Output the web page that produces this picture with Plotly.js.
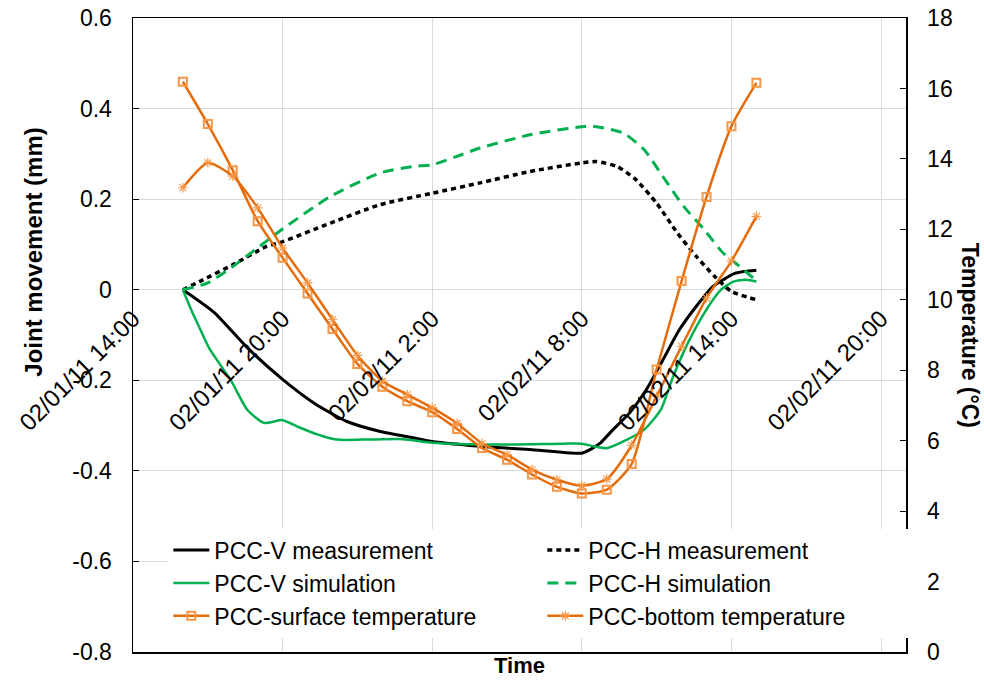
<!DOCTYPE html>
<html>
<head>
<meta charset="utf-8">
<script src="https://cdn.plot.ly/plotly-3.0.1.min.js"></script>
<style>html,body{margin:0;padding:0;background:#fff;}#chart{width:984px;height:681px;}</style>
</head>
<body>
<div id="chart"></div>
<script>
// ---- Data ----
const seriesNames = ['PCC-V measurement','PCC-H measurement','PCC-V simulation','PCC-H simulation','PCC-surface temperature','PCC-bottom temperature'];

const vMeasTime = ['2011-02-01 16:00','2011-02-01 17:15','2011-02-01 18:35','2011-02-01 20:00','2011-02-01 21:15','2011-02-01 22:35','2011-02-01 23:55','2011-02-02 01:15','2011-02-02 02:00','2011-02-02 03:10','2011-02-02 03:55','2011-02-02 05:55','2011-02-02 08:00','2011-02-02 08:20','2011-02-02 08:45','2011-02-02 09:15','2011-02-02 09:55','2011-02-02 10:35','2011-02-02 11:15','2011-02-02 11:55','2011-02-02 12:35','2011-02-02 13:15','2011-02-02 13:40','2011-02-02 14:05','2011-02-02 14:30','2011-02-02 15:00'];
const vMeasVal = [0,-0.050,-0.128,-0.198,-0.250,-0.291,-0.313,-0.327,-0.335,-0.342,-0.346,-0.353,-0.361,-0.353,-0.338,-0.309,-0.272,-0.221,-0.155,-0.088,-0.037,0.007,0.022,0.035,0.040,0.043];

const hMeasTime = ['2011-02-01 16:00','2011-02-01 16:40','2011-02-01 18:00','2011-02-01 19:20','2011-02-01 20:00','2011-02-01 21:55','2011-02-01 23:55','2011-02-02 02:00','2011-02-02 03:55','2011-02-02 05:55','2011-02-02 08:00','2011-02-02 08:35','2011-02-02 09:25','2011-02-02 10:10','2011-02-02 11:00','2011-02-02 11:50','2011-02-02 12:35','2011-02-02 13:20','2011-02-02 14:00','2011-02-02 15:00'];
const hMeasVal = [0,0.018,0.055,0.095,0.106,0.147,0.188,0.213,0.236,0.261,0.280,0.283,0.272,0.243,0.191,0.125,0.074,0.029,-0.004,-0.022];

const vSimTime = ['2011-02-01 16:00','2011-02-01 16:20','2011-02-01 16:35','2011-02-01 17:05','2011-02-01 17:55','2011-02-01 18:35','2011-02-01 19:15','2011-02-01 20:00','2011-02-01 20:35','2011-02-01 21:25','2011-02-01 22:10','2011-02-01 23:15','2011-02-02 00:50','2011-02-02 02:00','2011-02-02 04:35','2011-02-02 07:15','2011-02-02 08:00','2011-02-02 08:30','2011-02-02 09:00','2011-02-02 09:40','2011-02-02 10:30','2011-02-02 11:10','2011-02-02 11:40','2011-02-02 12:15','2011-02-02 12:55','2011-02-02 13:35','2011-02-02 14:05','2011-02-02 14:35','2011-02-02 15:00'];
const vSimVal = [0,-0.044,-0.074,-0.132,-0.199,-0.265,-0.294,-0.288,-0.302,-0.320,-0.331,-0.331,-0.330,-0.338,-0.342,-0.340,-0.340,-0.346,-0.350,-0.335,-0.309,-0.265,-0.191,-0.118,-0.051,0.0,0.018,0.022,0.018];

const hSimTime = ['2011-02-01 16:00','2011-02-01 17:00','2011-02-01 18:00','2011-02-01 19:05','2011-02-01 20:00','2011-02-01 21:55','2011-02-01 23:55','2011-02-02 01:15','2011-02-02 02:00','2011-02-02 03:10','2011-02-02 03:55','2011-02-02 05:55','2011-02-02 08:00','2011-02-02 08:35','2011-02-02 09:40','2011-02-02 10:30','2011-02-02 11:15','2011-02-02 12:05','2011-02-02 12:55','2011-02-02 13:40','2011-02-02 14:15','2011-02-02 15:00'];
const hSimVal = [0,0.015,0.051,0.096,0.134,0.206,0.258,0.272,0.276,0.298,0.313,0.342,0.360,0.360,0.346,0.309,0.250,0.184,0.132,0.081,0.055,0.020];

const tempTime = ['2011-02-01 16:00','2011-02-01 17:00','2011-02-01 18:00','2011-02-01 19:00','2011-02-01 20:00','2011-02-01 21:00','2011-02-01 22:00','2011-02-01 23:00','2011-02-02 00:00','2011-02-02 01:00','2011-02-02 02:00','2011-02-02 03:00','2011-02-02 04:00','2011-02-02 05:00','2011-02-02 06:00','2011-02-02 07:00','2011-02-02 08:00','2011-02-02 09:00','2011-02-02 10:00','2011-02-02 11:00','2011-02-02 12:00','2011-02-02 13:00','2011-02-02 14:00','2011-02-02 15:00'];
const surfaceTemp = [16.19,14.99,13.68,12.23,11.19,10.18,9.17,8.18,7.53,7.12,6.81,6.33,5.79,5.46,5.04,4.69,4.50,4.61,5.34,8.02,10.53,12.92,14.93,16.16];
const bottomTemp = [13.18,13.89,13.51,12.61,11.47,10.48,9.44,8.42,7.69,7.31,6.93,6.49,5.92,5.60,5.18,4.89,4.72,4.91,5.87,7.26,8.68,10.05,11.10,12.37];

const xTickVals = ['2011-02-01 14:00','2011-02-01 20:00','2011-02-02 02:00','2011-02-02 08:00','2011-02-02 14:00','2011-02-02 20:00'];
const xTickText = ['02/01/11 14:00','02/01/11 20:00','02/02/11 2:00','02/02/11 8:00','02/02/11 14:00','02/02/11 20:00'];
const yTickVals = [-0.8,-0.6,-0.4,-0.2,0,0.2,0.4,0.6];
const yTickText = ['-0.8','-0.6','-0.4','-0.2','0','0.2','0.4','0.6'];
const y2TickVals = [0,2,4,6,8,10,12,14,16,18];

// ---- Styles ----
const F = 'Arial, "Liberation Sans", sans-serif';
const orange = '#E46C0A', orangeLight = '#F79646', green = '#00B050';
const xRange = ['2011-02-01 14:00','2011-02-02 21:00'];

const traces = [
  {x: vMeasTime, y: vMeasVal, name: seriesNames[0], mode: 'lines', line: {color: '#000', width: 3, shape: 'spline', smoothing: 0.6}},
  {x: hMeasTime, y: hMeasVal, name: seriesNames[1], mode: 'lines', line: {color: '#000', width: 3.5, dash: '5px,4px', shape: 'spline', smoothing: 0.6}},
  {x: vSimTime, y: vSimVal, name: seriesNames[2], mode: 'lines', line: {color: green, width: 2.5, shape: 'spline', smoothing: 0.6}},
  {x: hSimTime, y: hSimVal, name: seriesNames[3], mode: 'lines', line: {color: green, width: 3, dash: '11px,7px', shape: 'spline', smoothing: 0.6}},
  {x: tempTime, y: surfaceTemp, name: seriesNames[4], xaxis: 'x2', yaxis: 'y2', mode: 'lines+markers',
   line: {color: orange, width: 2.5, shape: 'spline', smoothing: 0.6},
   marker: {symbol: 'square-open', size: 8, color: orangeLight, line: {width: 2, color: orangeLight}}},
  {x: tempTime, y: bottomTemp, name: seriesNames[5], xaxis: 'x2', yaxis: 'y2', mode: 'lines+markers',
   line: {color: orange, width: 2.5, shape: 'spline', smoothing: 0.6},
   marker: {symbol: 'asterisk-open', size: 8, color: orangeLight, line: {width: 1.2, color: orangeLight}}}
];

const layout = {
  width: 984, height: 681,
  margin: {l: 133, r: 78, t: 18, b: 29},
  paper_bgcolor: '#fff', plot_bgcolor: '#fff',
  font: {family: F, size: 23, color: '#000'},
  showlegend: true,
  xaxis: {
    type: 'date', range: xRange, tickvals: xTickVals, showticklabels: false,
    showgrid: true, gridcolor: '#d9d9d9', gridwidth: 1,
    showline: true, linecolor: '#000', linewidth: 1.5, mirror: true,
    ticks: '', zeroline: false
  },
  xaxis2: {
    type: 'date', range: xRange, overlaying: 'x', anchor: 'free', position: 0.557,
    tickvals: xTickVals, ticktext: xTickText, tickangle: -45,
    tickfont: {family: F, size: 24, color: '#000'},
    showgrid: false, showline: false, ticks: '', zeroline: false
  },
  yaxis: {
    range: [-0.8, 0.6], tickvals: yTickVals, ticktext: yTickText,
    tickfont: {family: F, size: 23, color: '#000'},
    showgrid: true, gridcolor: '#d9d9d9', gridwidth: 1, zeroline: false,
    showline: true, linecolor: '#000', linewidth: 1.5,
    ticks: 'inside', ticklen: 6, tickcolor: '#000', ticklabelstandoff: 15
  },
  yaxis2: {
    range: [0, 18], tickvals: y2TickVals, overlaying: 'y', side: 'right', anchor: 'x2',
    tickfont: {family: F, size: 23, color: '#000'},
    showgrid: false, zeroline: false,
    showline: true, linecolor: '#000', linewidth: 1.5,
    ticks: 'inside', ticklen: 6, tickcolor: '#000', ticklabelstandoff: 15
  },
  legend: {
    orientation: 'h', x: 0.0457, y: 0.1946, xanchor: 'left', yanchor: 'top',
    entrywidth: 323, entrywidthmode: 'pixels',
    bgcolor: '#fff', borderwidth: 0,
    font: {family: F, size: 23, color: '#000'}, itemwidth: 36
  },
  annotations: [
    {text: '<b>Joint movement (mm)</b>', xref: 'paper', yref: 'paper', x: -0.128, y: 0.63, xanchor: 'center', yanchor: 'middle',
     textangle: -90, showarrow: false, font: {family: F, size: 24, color: '#000'}},
    {text: '<b>Temperature (°C)</b>', xref: 'paper', yref: 'paper', x: 1.083, y: 0.5, xanchor: 'center', yanchor: 'middle',
     textangle: 90, showarrow: false, font: {family: F, size: 23, color: '#000'}},
    {text: '<b>Time</b>', xref: 'paper', yref: 'paper', x: 0.5, y: -0.0214, xanchor: 'center', yanchor: 'middle',
     showarrow: false, font: {family: F, size: 22, color: '#000'}}
  ]
};

Plotly.newPlot('chart', traces, layout, {displayModeBar: false, staticPlot: true});
</script>
</body>
</html>
